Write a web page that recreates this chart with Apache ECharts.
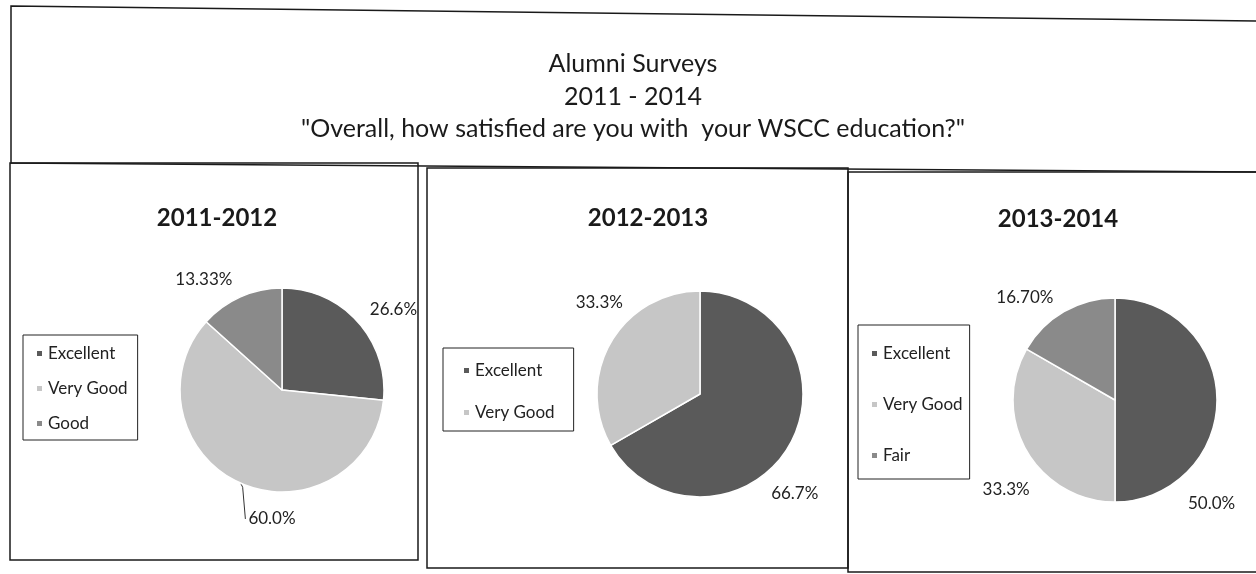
<!DOCTYPE html>
<html>
<head>
<meta charset="utf-8">
<script src="https://cdn.jsdelivr.net/npm/echarts@6/dist/echarts.min.js"></script>
<style>
  html, body { margin: 0; padding: 0; background: #fff; }
  #chart { width: 1256px; height: 574px; }
</style>
</head>
<body>
<div id="chart"></div>
<script>
// Survey answers per school year
const years = ['2011-2012', '2012-2013', '2013-2014'];

const categories2011 = ['Excellent', 'Very Good', 'Good'];
const values2011 = [26.6, 60.0, 13.33];
const labels2011 = ['26.6%', '60.0%', '13.33%'];

const categories2012 = ['Excellent', 'Very Good'];
const values2012 = [66.7, 33.3];
const labels2012 = ['66.7%', '33.3%'];

const categories2013 = ['Excellent', 'Very Good', 'Fair'];
const values2013 = [50.0, 33.3, 16.7];
const labels2013 = ['50.0%', '33.3%', '16.70%'];

const mainTitle = 'Alumni Surveys\n2011 - 2014\n"Overall, how satisfied are you with  your WSCC education?"';

// Styling
const FONT = 'Lato, "Open Sans", sans-serif';
const shade = {
  'Excellent': '#5a5a5a',
  'Very Good': '#c6c6c6',
  'Good': '#8a8a8a',
  'Fair': '#8a8a8a'
};

// Label nudges (dx, dy) applied after the library places each outside label
const nudges = [
  [[-4, -2], [66, 22], [3, -4]],
  [[-36, 40], [30, -32]],
  [[-49, 104], [21, 31], [2, -1]]
];

const panels = [
  { cats: categories2011, vals: values2011, labels: labels2011, center: [282, 390], radius: 102,
    legend: { left: 23, top: 335, padding: [10, 10, 8, 12], itemGap: 18 } },
  { cats: categories2012, vals: values2012, labels: labels2012, center: [700, 394], radius: 103,
    legend: { left: 443, top: 348, padding: [14, 19, 10, 19], itemGap: 25 } },
  { cats: categories2013, vals: values2013, labels: labels2013, center: [1115, 400], radius: 102,
    legend: { left: 858, top: 325, padding: [20, 7, 15, 12], itemGap: 34 } }
];
const titleCenters = [[212, 201], [643, 201], [1053, 202]];

const chart = echarts.init(document.getElementById('chart'), null, { renderer: 'canvas' });

const titles = [{
  text: mainTitle,
  left: 628,
  top: 43,
  textAlign: 'center',
  textStyle: { fontFamily: FONT, fontSize: 25, fontWeight: 'normal', color: '#1a1a1a', lineHeight: 32.5 }
}];
years.forEach((y, i) => {
  titles.push({
    text: y,
    left: titleCenters[i][0],
    top: titleCenters[i][1],
    textAlign: 'center',
    textStyle: { fontFamily: FONT, fontSize: 24, fontWeight: 'bold', color: '#1a1a1a' }
  });
});

const legends = panels.map((p, i) => ({
  orient: 'vertical',
  left: p.legend.left,
  top: p.legend.top,
  padding: p.legend.padding,
  itemGap: p.legend.itemGap,
  itemWidth: 7,
  itemHeight: 7,
  icon: 'rect',
  borderColor: '#222',
  borderWidth: 1,
  borderRadius: 0,
  seriesIndex: i,
  data: p.cats,
  textStyle: { fontFamily: FONT, fontSize: 17, color: '#222', lineHeight: 16 }
}));

const series = panels.map((p, i) => ({
  type: 'pie',
  name: years[i],
  center: p.center,
  radius: p.radius,
  startAngle: 90,
  clockwise: true,
  avoidLabelOverlap: false,
  animation: false,
  itemStyle: { borderColor: '#fff', borderWidth: 1.5 },
  label: {
    show: true,
    position: 'outside',
    fontFamily: FONT,
    fontSize: 17,
    color: '#222',
    formatter: (d) => p.labels[d.dataIndex]
  },
  labelLine: { show: false, length: 15, length2: 0 },
  labelLayout: (params) => {
    const n = nudges[i][params.dataIndex];
    const out = { dx: n[0], dy: n[1] };
    const pts = params.labelLinePoints;
    if (i === 0 && p.cats[params.dataIndex] === 'Very Good' && pts) {
      // leader drops from the slice edge to the left side of the moved label
      const r = params.labelRect;
      const endX = r.x + n[0] - 3;
      const endY = r.y + n[1] + r.height / 2;
      out.labelLinePoints = [pts[0], [pts[0][0] + 2, pts[0][1] + 4], [endX, endY]];
    }
    return out;
  },
  emphasis: { disabled: true },
  data: p.cats.map((c, k) => {
    const item = { name: c, value: p.vals[k], itemStyle: { color: shade[c] } };
    if (i === 0 && c === 'Very Good') {
      item.labelLine = { show: true, lineStyle: { color: '#333', width: 1 } };
    }
    return item;
  })
}));

// Frames around the heading and the three yearly panels
const frameStyle = { fill: 'none', stroke: '#1a1a1a', lineWidth: 1.5 };
const graphic = [
  { type: 'polygon', silent: true, shape: { points: [[11, 6], [1262, 21], [1262, 172], [11, 163]] }, style: frameStyle },
  { type: 'rect', silent: true, shape: { x: 10, y: 163, width: 408, height: 397 }, style: frameStyle },
  { type: 'rect', silent: true, shape: { x: 427, y: 168, width: 421, height: 400 }, style: frameStyle },
  { type: 'rect', silent: true, shape: { x: 848, y: 172, width: 414, height: 400 }, style: frameStyle }
];

chart.setOption({
  backgroundColor: '#fff',
  title: titles,
  legend: legends,
  graphic: graphic,
  series: series
});
</script>
</body>
</html>
